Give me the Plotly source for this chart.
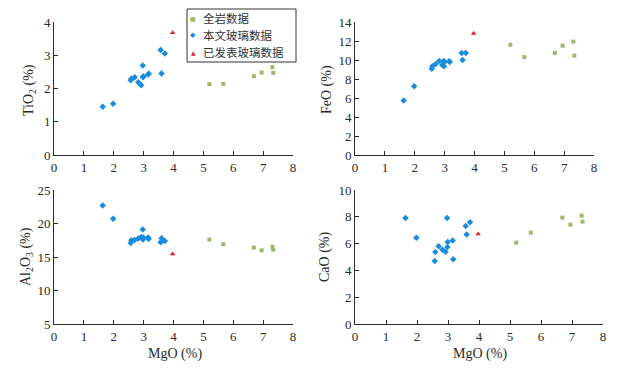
import plotly.graph_objects as go

# MgO values (x for every panel)
mgo_glass = [1.63, 1.98, 2.57, 2.59, 2.70, 2.82, 2.92, 2.97, 2.98, 2.99, 3.15, 3.17, 3.57, 3.60, 3.71]
mgo_rock = [5.20, 5.67, 6.69, 6.95, 7.31, 7.34]
mgo_pub = [3.97]

tio2_glass = [1.45, 1.54, 2.25, 2.29, 2.34, 2.19, 2.10, 2.69, 2.34, 2.37, 2.42, 2.44, 3.16, 2.45, 3.05]
tio2_rock = [2.13, 2.14, 2.37, 2.48, 2.64, 2.47]
tio2_pub = [3.68]

feo_glass = [5.75, 7.23, 9.09, 9.33, 9.58, 9.89, 9.47, 9.89, 9.33, 9.78, 9.86, 9.80, 10.74, 10.0, 10.74]
feo_rock = [11.6, 10.3, 10.74, 11.5, 11.93, 10.46]
feo_pub = [12.8]

al2o3_glass = [22.7, 20.7, 17.1, 17.5, 17.55, 17.75, 18.0, 19.1, 17.6, 17.9, 17.9, 17.7, 17.2, 17.8, 17.4]
al2o3_rock = [17.6, 16.9, 16.4, 16.0, 16.5, 16.1]
al2o3_pub = [15.45]

cao_glass = [7.91, 6.44, 4.70, 5.37, 5.80, 5.55, 5.40, 7.91, 5.75, 6.12, 6.24, 4.83, 7.31, 6.67, 7.59]
cao_rock = [6.07, 6.82, 7.94, 7.41, 8.08, 7.64]
cao_pub = [6.72]

names = ["全岩数据", "本文玻璃数据", "已发表玻璃数据"]
GREEN = "#9cb96b"
BLUE = "#1a8ce0"
RED = "#e8202a"
FONT = "Liberation Serif, Times New Roman, Noto Sans CJK SC, serif"
INK = "#2a2a2a"

panels = [
    # (glass, rock, pub, y title, y range, dtick)
    (tio2_glass, tio2_rock, tio2_pub, "TiO<sub>2</sub> (%)", [0, 4], 1),
    (feo_glass, feo_rock, feo_pub, "FeO (%)", [0, 14], 2),
    (al2o3_glass, al2o3_rock, al2o3_pub, "Al<sub>2</sub>O<sub>3</sub> (%)", [5, 25], 5),
    (cao_glass, cao_rock, cao_pub, "CaO (%)", [0, 10], 2),
]

fig = go.Figure()
for i, (glass, rock, pub, title, yr, dt) in enumerate(panels):
    sx = "" if i == 0 else str(i + 1)
    fig.add_trace(go.Scatter(x=mgo_rock, y=rock, mode="markers", name=names[0],
                             xaxis="x" + sx, yaxis="y" + sx,
                             marker=dict(symbol="square", size=4, color=GREEN)))
    fig.add_trace(go.Scatter(x=mgo_glass, y=glass, mode="markers", name=names[1],
                             xaxis="x" + sx, yaxis="y" + sx,
                             marker=dict(symbol="diamond", size=5, color=BLUE)))
    fig.add_trace(go.Scatter(x=mgo_pub, y=pub, mode="markers", name=names[2],
                             xaxis="x" + sx, yaxis="y" + sx,
                             marker=dict(symbol="triangle-up", size=5, color=RED)))

# the page body keeps its 8px margin, so the figure is 8px smaller and
# reference pixel positions are shifted by 8px
OFF = 8
W, H = 618 - OFF, 368 - OFF


def fx(px):
    return (px - OFF) / W


def fy(py):
    return 1 - (py - OFF) / H


xdoms = [[fx(54), fx(293)], [fx(355), fx(594)], [fx(54), fx(293)], [fx(355), fx(603)]]
ydoms = [[fy(155), fy(22)], [fy(155), fy(22)], [fy(324), fy(190)], [fy(324), fy(190)]]

axis_common = dict(showline=True, linecolor=INK, linewidth=1, ticks="inside", ticklen=4,
                   tickcolor=INK, showgrid=False, zeroline=False, automargin=False,
                   tickfont=dict(family=FONT, size=13, color=INK))

layout = dict(
    template="none",
    width=W, height=H, margin=dict(l=0, r=0, t=0, b=0, pad=0, autoexpand=False),
    plot_bgcolor="white", paper_bgcolor="white",
    font=dict(family=FONT, color=INK),
    showlegend=False,
)
for i, (glass, rock, pub, title, yr, dt) in enumerate(panels):
    sx = "" if i == 0 else str(i + 1)
    layout["xaxis" + sx] = dict(domain=xdoms[i], range=[0, 8], dtick=1, anchor="y" + sx,
                                **axis_common)
    layout["yaxis" + sx] = dict(domain=ydoms[i], range=yr, dtick=dt, anchor="x" + sx,
                                **axis_common)

# axis titles placed like the reference
ytitle_pos = [(30, 90), (327, 90), (26, 257), (325, 257)]
annotations = []
for (glass, rock, pub, title, yr, dt), (px, py) in zip(panels, ytitle_pos):
    annotations.append(dict(text=title, x=fx(px), y=fy(py), xref="paper", yref="paper",
                            textangle=-90, showarrow=False, xanchor="center", yanchor="middle",
                            font=dict(family=FONT, size=14, color=INK)))
for px in (175, 480):
    annotations.append(dict(text="MgO (%)", x=fx(px), y=fy(354), xref="paper", yref="paper",
                            showarrow=False, xanchor="center", yanchor="middle",
                            font=dict(family=FONT, size=14, color=INK)))

# compact boxed legend (plotly's own legend rows are too tall here)
legend_keys = [("■", GREEN, 6), ("◆", BLUE, 7), ("▲", RED, 6)]
legend_rows = [18, 35, 52]
for name, (glyph, col, gsize), ry in zip(names, legend_keys, legend_rows):
    annotations.append(dict(text=glyph, x=fx(193), y=fy(ry), xref="paper", yref="paper",
                            showarrow=False, xanchor="center", yanchor="middle",
                            font=dict(family="DejaVu Sans", size=gsize, color=col)))
    annotations.append(dict(text=name, x=fx(201), y=fy(ry), xref="paper", yref="paper",
                            showarrow=False, xanchor="left", yanchor="middle",
                            font=dict(family="Noto Sans CJK SC", size=11.5, color="#333")))
layout["annotations"] = annotations
layout["shapes"] = [dict(type="rect", xref="paper", yref="paper",
                         x0=fx(187), x1=fx(296), y0=fy(62), y1=fy(9),
                         line=dict(color="#333", width=1), fillcolor="white", layer="above")]

fig.update_layout(**layout)
fig.write_html("out.html")
